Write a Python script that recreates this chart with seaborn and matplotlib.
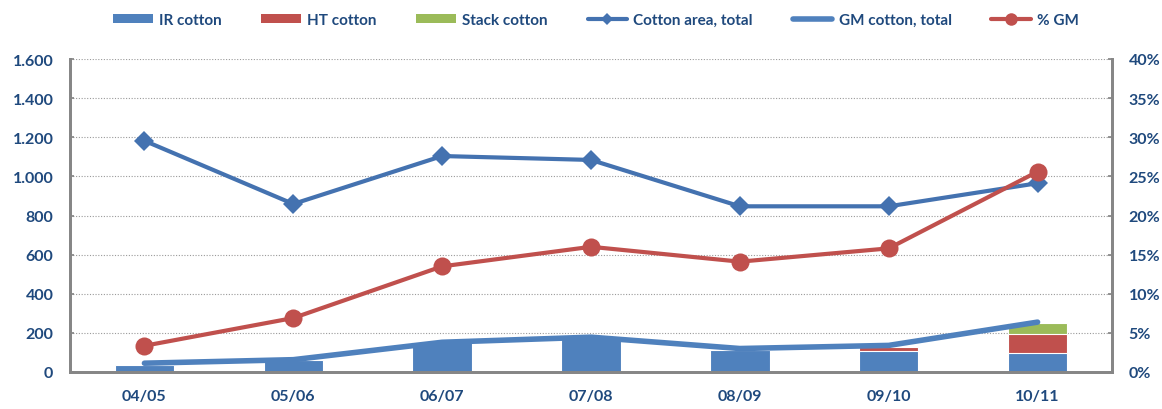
import numpy as np
import pandas as pd
import matplotlib
matplotlib.use("Agg")
import matplotlib.pyplot as plt
import seaborn as sns
from matplotlib.patches import Patch
from matplotlib.lines import Line2D
from matplotlib.ticker import FuncFormatter, MultipleLocator

# ---- data ----
seasons = ["04/05", "05/06", "06/07", "07/08", "08/09", "09/10", "10/11"]
ir_cotton = [38, 62, 155, 180, 115, 108, 98]
ht_cotton = [0, 0, 0, 0, 0, 20, 97]
stack_cotton = [0, 0, 0, 0, 0, 0, 57]
cotton_area = [1182, 859, 1104, 1084, 847, 847, 965]
gm_total = [45, 63, 152, 178, 120, 136, 255]
pct_gm = [3.35, 6.9, 13.5, 16.0, 14.1, 15.8, 25.6]

# ---- style ----
sns.set_theme(style="white")
plt.rcParams["font.family"] = ["Lato", "DejaVu Sans"]
plt.rcParams["font.weight"] = "bold"

C_IR = "#4F81BD"
C_HT = "#C0504D"
C_ST = "#9BBB59"
C_AREA = "#4472B0"
C_GM = "#4F81BD"
C_PCT = "#C0504D"
C_TXT = "#1F497D"
C_SPINE = "#868686"

df = pd.DataFrame({
    "season": seasons,
    "ir": ir_cotton,
    "ht": ht_cotton,
    "st": stack_cotton,
})
df["ir_ht"] = df["ir"] + df["ht"]
df["all"] = df["ir_ht"] + df["st"]

fig = plt.figure(figsize=(11.62, 4.10), dpi=100)
ax = fig.add_axes([70 / 1162, 1 - 373 / 410, (1112 - 70) / 1162, (373 - 60) / 410])

bw = 0.4
sns.barplot(data=df, x="season", y="all", color=C_ST, width=bw, ax=ax,
            edgecolor="white", linewidth=0.8, saturation=1, zorder=2)
sns.barplot(data=df, x="season", y="ir_ht", color=C_HT, width=bw, ax=ax,
            edgecolor="white", linewidth=0.8, saturation=1, zorder=2)
sns.barplot(data=df, x="season", y="ir", color=C_IR, width=bw, ax=ax,
            edgecolor="white", linewidth=0.8, saturation=1, zorder=2)

xpos = np.arange(len(seasons))
sns.lineplot(x=xpos, y=gm_total, ax=ax, color=C_GM, linewidth=4, zorder=3,
             sort=False)
sns.lineplot(x=xpos, y=cotton_area, ax=ax, color=C_AREA, linewidth=3,
             marker="D", markersize=10, markeredgewidth=0, zorder=4, sort=False)

ax.set_xlim(-0.5, len(seasons) - 0.5)
ax.set_ylim(0, 1600)
ax.yaxis.set_major_locator(MultipleLocator(200))
ax.yaxis.set_major_formatter(FuncFormatter(lambda v, p: f"{int(v):,}".replace(",", ".")))
ax.set_xlabel("")
ax.set_ylabel("")
ax.grid(axis="y", color="#9A9A9A", linestyle=(0, (1, 1.5)), linewidth=0.8, zorder=0)
ax.set_axisbelow(True)

ax2 = ax.twinx()
sns.lineplot(x=xpos, y=pct_gm, ax=ax2, color=C_PCT, linewidth=3,
             marker="o", markersize=13, markeredgewidth=0, zorder=5, sort=False)
ax2.set_ylim(0, 40)
ax2.yaxis.set_major_locator(MultipleLocator(5))
ax2.yaxis.set_major_formatter(FuncFormatter(lambda v, p: f"{int(round(v))}%"))
ax2.set_ylabel("")
ax2.set_xlim(-0.5, len(seasons) - 0.5)

for a in (ax, ax2):
    for s in a.spines.values():
        s.set_color(C_SPINE)
        s.set_linewidth(2)
    a.spines["top"].set_visible(False)

ax.tick_params(axis="y", direction="in", length=3, color=C_SPINE, pad=12,
               labelsize=11.5, labelcolor=C_TXT)
ax2.tick_params(axis="y", direction="in", length=3, color=C_SPINE, pad=12,
                labelsize=11.5, labelcolor=C_TXT)
ax.tick_params(axis="x", length=0, pad=12, labelsize=11.5, labelcolor=C_TXT)
for lab in ax.get_xticklabels() + ax.get_yticklabels() + ax2.get_yticklabels():
    lab.set_fontweight("bold")

handles = [
    Patch(facecolor=C_IR, edgecolor="none"),
    Patch(facecolor=C_HT, edgecolor="none"),
    Patch(facecolor=C_ST, edgecolor="none"),
    Line2D([], [], color=C_AREA, linewidth=3, marker="D", markersize=6, markeredgewidth=0),
    Line2D([], [], color=C_GM, linewidth=4),
    Line2D([], [], color=C_PCT, linewidth=3, marker="o", markersize=9, markeredgewidth=0),
]
labels = ["IR cotton", "HT cotton", "Stack cotton", "Cotton area, total",
          "GM cotton, total", "% GM"]
leg = fig.legend(handles, labels, loc="center", bbox_to_anchor=(596 / 1162, 1 - 21 / 410),
                 ncol=6, frameon=False, handlelength=2.6, handleheight=0.55,
                 handletextpad=0.4, columnspacing=2.6, fontsize=11)
for t in leg.get_texts():
    t.set_color(C_TXT)
    t.set_fontweight("bold")

fig.savefig("out.png", dpi=100)
